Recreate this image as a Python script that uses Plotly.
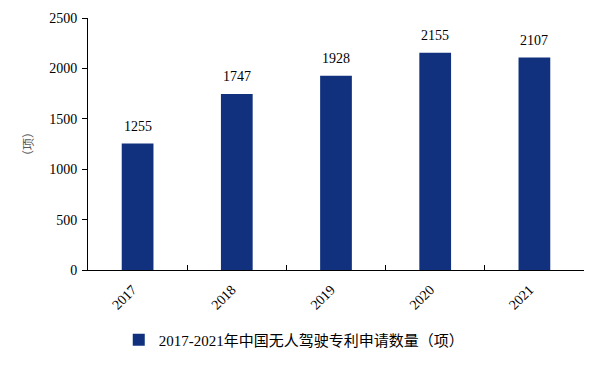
import plotly.graph_objects as go

years = ["2017", "2018", "2019", "2020", "2021"]
patents = [1255, 1747, 1928, 2155, 2107]
y_ticks = [0, 500, 1000, 1500, 2000, 2500]
series_name = "2017-2021年中国无人驾驶专利申请数量（项）"
y_title = "（项）"

FONT = "Liberation Serif, 'Times New Roman', 'Noto Sans CJK SC', serif"
BAR = "#11317F"

fig = go.Figure()
fig.add_trace(go.Bar(
    x=years, y=patents, name=series_name,
    marker=dict(color=BAR, line=dict(width=0)),
    width=0.32,
))
for i, v in enumerate(patents):
    fig.add_annotation(x=i, y=v, xref="x", yref="y", text=str(v), showarrow=False,
                       yanchor="bottom", yshift=8,
                       font=dict(family=FONT, size=14, color="#000"))

fig.update_layout(
    width=602, height=368,
    margin=dict(l=88, r=18, t=18, b=98, autoexpand=False),
    paper_bgcolor="white", plot_bgcolor="white",
    font=dict(family=FONT, size=14, color="#000"),
    showlegend=True,
    legend=dict(orientation="h", x=0.062, y=-0.278, xanchor="left", yanchor="middle",
                font=dict(family=FONT, size=15, color="#000"),
                itemwidth=30, bgcolor="rgba(0,0,0,0)"),
)
fig.update_xaxes(
    type="category", automargin=False, range=[-0.5, 4.5],
    showline=True, linecolor="#000", linewidth=1,
    ticks="inside", ticklen=5, tickcolor="#000", tickson="boundaries",
    tickangle=-45, showgrid=False, zeroline=False,
    ticklabelstandoff=5, ticklabelshift=-5,
    tickfont=dict(family=FONT, size=14, color="#000"),
)
fig.update_yaxes(
    range=[0, 2500], tickvals=y_ticks, automargin=False,
    showline=True, linecolor="#000", linewidth=1,
    ticks="outside", ticklen=5, tickcolor="#000",
    showgrid=False, zeroline=False, ticklabelstandoff=2,
    tickfont=dict(family=FONT, size=14, color="#000"),
    title=dict(text=y_title, standoff=13,
               font=dict(family="'Noto Sans CJK SC', sans-serif", size=12, color="#595959")),
)
fig.write_html("out.html", config={"displayModeBar": False},
               post_script="document.body.style.margin='0';")
